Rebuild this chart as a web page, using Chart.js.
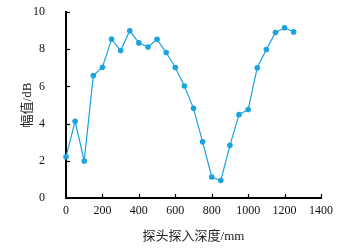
<!DOCTYPE html>
<html>
<head>
<meta charset="utf-8">
<script src="https://cdn.jsdelivr.net/npm/chart.js@4"></script>
<style>
  html, body { margin: 0; padding: 0; background: #fff; }
  #wrap { width: 345px; height: 252px; }
</style>
</head>
<body>
<div id="wrap"><canvas id="depth_chart" width="345" height="252"></canvas></div>
<script>
// 探头探入深度 (mm)
const depth = [0, 50, 100, 150, 200, 250, 300, 350, 400, 450, 500, 550, 600,
               650, 700, 750, 800, 850, 900, 950, 1000, 1050, 1100, 1150, 1200, 1250];
// 幅值 (dB)
const amplitude = [2.22, 4.12, 1.99, 6.58, 7.03, 8.54, 7.93, 8.99, 8.34, 8.12, 8.53, 7.82, 7.02,
                   6.02, 4.82, 3.02, 1.13, 0.94, 2.83, 4.48, 4.76, 7.0, 7.98, 8.9, 9.15, 8.93];
const xTicks = [0, 200, 400, 600, 800, 1000, 1200, 1400];
const yTicks = [0, 2, 4, 6, 8, 10];

const LINE_COLOR = '#1ba3dd';
const FONT_FAMILY = '"Liberation Serif", "Noto Sans CJK SC", serif';

// 内向き目盛り
const innerTicks = {
  id: 'innerTicks',
  afterDraw(chart) {
    const ctx = chart.ctx;
    const xs = chart.scales.x, ys = chart.scales.y;
    const area = chart.chartArea;
    ctx.save();
    ctx.strokeStyle = '#000';
    ctx.lineWidth = 1.2;
    xTicks.forEach(v => {
      const px = Math.round(xs.getPixelForValue(v)) + 0.5;
      ctx.beginPath();
      ctx.moveTo(px, area.bottom);
      ctx.lineTo(px, area.bottom - 4);
      ctx.stroke();
    });
    yTicks.forEach(v => {
      const py = Math.round(ys.getPixelForValue(v)) + 0.5;
      ctx.beginPath();
      ctx.moveTo(area.left, py);
      ctx.lineTo(area.left + 4, py);
      ctx.stroke();
    });
    ctx.restore();
  }
};

new Chart(document.getElementById('depth_chart').getContext('2d'), {
  type: 'line',
  data: {
    datasets: [{
      label: '幅值',
      data: depth.map((d, i) => ({ x: d, y: amplitude[i] })),
      borderColor: LINE_COLOR,
      backgroundColor: LINE_COLOR,
      borderWidth: 1.2,
      pointRadius: 2.8,
      pointBorderWidth: 0,
      fill: false,
      tension: 0,
      clip: false
    }]
  },
  plugins: [innerTicks],
  options: {
    responsive: false,
    animation: false,
    devicePixelRatio: 1,
    layout: { padding: { left: 20, right: 24, top: 12, bottom: 8 } },
    plugins: {
      legend: { display: false },
      tooltip: { enabled: false }
    },
    scales: {
      x: {
        type: 'linear',
        min: 0,
        max: 1400,
        afterBuildTicks: s => { s.ticks = xTicks.map(v => ({ value: v })); },
        afterFit: s => { s.height = 46; s.paddingLeft = 0; s.paddingRight = 0; },
        border: { display: true, color: '#000', width: 2 },
        grid: { display: false },
        ticks: {
          color: '#111',
          padding: -2,
          maxRotation: 0,
          callback: v => String(v),
          font: { family: FONT_FAMILY, size: 12 }
        },
        title: {
          display: true,
          text: '探头探入深度/mm',
          color: '#222',
          padding: { top: 4, bottom: 0 },
          font: { family: FONT_FAMILY, size: 13 }
        }
      },
      y: {
        min: 0,
        max: 10,
        afterBuildTicks: s => { s.ticks = yTicks.map(v => ({ value: v })); },
        afterFit: s => { s.width = 46; s.paddingTop = 0; s.paddingBottom = 0; },
        border: { display: true, color: '#000', width: 2 },
        grid: { display: false },
        ticks: {
          color: '#111',
          padding: 13,
          callback: v => String(v),
          font: { family: FONT_FAMILY, size: 12 }
        },
        title: {
          display: true,
          text: '幅值/dB',
          color: '#222',
          padding: { top: 0, bottom: 4 },
          font: { family: FONT_FAMILY, size: 13 }
        }
      }
    }
  }
});
</script>
</body>
</html>
